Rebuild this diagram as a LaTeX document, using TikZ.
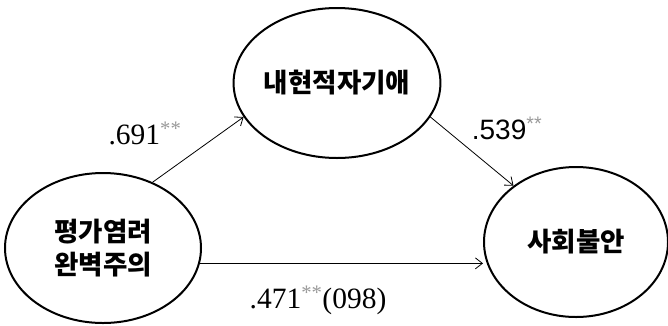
\documentclass[tikz,border=0pt]{standalone}
\usepackage{fontspec}
\setmainfont{Liberation Serif}
\newfontfamily\kor{Noto Sans CJK KR}
\newfontfamily\arialfont{Liberation Sans}
\usetikzlibrary{arrows.meta}
\usetikzlibrary{shapes.geometric}
\usetikzlibrary{positioning}
\tikzstyle{factor} = [ellipse, draw=black, line width=2pt, align=center, font=\kor\bfseries\fontsize{26.5}{33}\selectfont, inner sep=0pt]
\tikzstyle{coef} = [inner sep=0pt, font=\fontsize{29.5}{30}\selectfont]
\tikzstyle{arrow} = [line width=0.8pt,->,>={Straight Barb[length=7pt,width=11pt]}]
\newcommand{\stars}{\textsuperscript{\textcolor{black!40}{**}}}

\begin{document}
\begin{tikzpicture}[x=1pt,y=-1pt]
\useasboundingbox (0,0) rectangle (668,325);
\node (perf) [factor, minimum width=196pt, minimum height=150pt] at (103,248) {평가염려\\완벽주의};
\node (narc) [factor, minimum width=189pt, minimum height=150pt] at (337,83) {내현적자기애};
\node (anx) [factor, minimum width=184pt, minimum height=150pt] at (576,242) {사회불안};

\node (c1) [coef] at (145,133) {.691\stars};
\node (c2) [coef, font=\arialfont\fontsize{28}{30}\selectfont] at (507,128) {.539\stars};
\node (c3) [coef] at (318,300) {.471\stars(098)};

\draw [arrow] (perf.53) -- (narc.200);
\draw [arrow] (narc.340) -- (anx.138);
\draw [arrow] (perf.-9) -- (perf.-9 -| anx.west);
\end{tikzpicture}
\end{document}
